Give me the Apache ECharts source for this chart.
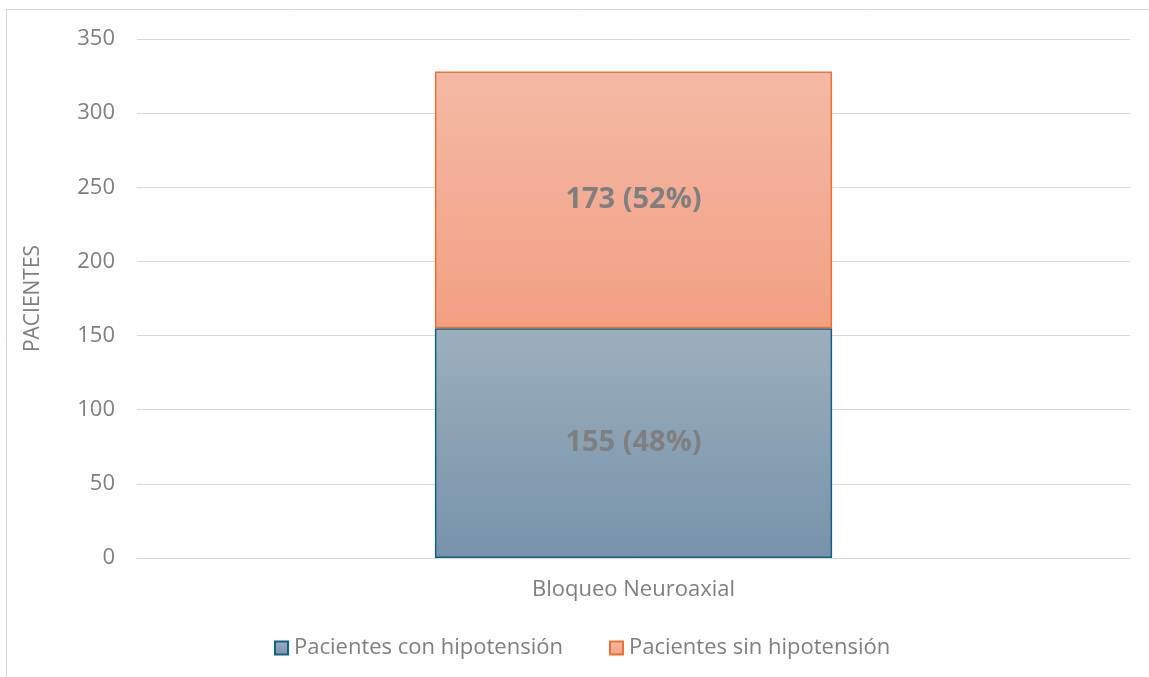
<!DOCTYPE html>
<html lang="es">
  <head>
    <meta charset="UTF-8" />
    <title>Bloqueo Neuroaxial</title>
    <style>
      body {
        margin: 0;
        background: #fff;
      }
      #chart {
        width: 1149px;
        height: 677px;
      }
    </style>
    <script src="https://cdn.jsdelivr.net/npm/echarts@6/dist/echarts.min.js"></script>
  </head>
  <body>
    <div id="chart"></div>
    <script>
      // datos
      const categories = ["Bloqueo Neuroaxial"];
      const conHipotension = [155];
      const sinHipotension = [173];
      const pctCon = [48];
      const pctSin = [52];
      const seriesNames = ["Pacientes con hipotensión", "Pacientes sin hipotensión"];

      const font = "Open Sans";
      const grey = "#7f7f7f";

      const grad = (top, bottom) =>
        new echarts.graphic.LinearGradient(0, 0, 0, 1, [
          { offset: 0, color: top },
          { offset: 1, color: bottom },
        ]);

      const chart = echarts.init(document.getElementById("chart"));
      chart.setOption({
        animation: false,
        textStyle: { fontFamily: font },
        graphic: [
          {
            type: "rect",
            shape: { x: 6.5, y: 9.5, width: 1200, height: 700 },
            style: { fill: "none", stroke: "#d9d9d9", lineWidth: 1 },
            silent: true,
          },
        ],
        grid: { left: 137, right: 19, top: 39, bottom: 119 },
        legend: {
          left: 269,
          top: 632,
          itemWidth: 13,
          itemHeight: 13,
          itemGap: 46,
          icon: "rect",
          textStyle: { fontFamily: font, fontSize: 22, color: grey, padding: [0, 0, 0, 1] },
          data: seriesNames,
        },
        xAxis: {
          type: "category",
          data: categories,
          axisLine: { lineStyle: { color: "#d9d9d9", width: 1 } },
          axisTick: { show: false },
          axisLabel: { fontFamily: font, fontSize: 22, color: grey, margin: 21 },
        },
        yAxis: {
          type: "value",
          min: 0,
          max: 350,
          interval: 50,
          name: "PACIENTES",
          nameLocation: "middle",
          nameGap: 93,
          nameTextStyle: { fontFamily: font, fontSize: 21, color: grey },
          axisLine: { show: false },
          axisTick: { show: false },
          splitLine: { lineStyle: { color: "#d9d9d9", width: 1 } },
          axisLabel: { fontFamily: font, fontSize: 22, color: grey, margin: 22 },
        },
        series: [
          {
            name: seriesNames[0],
            type: "bar",
            stack: "total",
            barWidth: "40%",
            data: conHipotension,
            itemStyle: {
              color: grad("#9cafbe", "#7793aa"),
              borderColor: "#156082",
              borderWidth: 1.5,
            },
            label: {
              show: true,
              position: "inside",
              fontFamily: font,
              fontSize: 29,
              fontWeight: "bold",
              color: grey,
              formatter: (p) => `${p.value} (${pctCon[p.dataIndex]}%)`,
            },
          },
          {
            name: seriesNames[1],
            type: "bar",
            stack: "total",
            barWidth: "40%",
            data: sinHipotension,
            itemStyle: {
              color: grad("#f4b9a5", "#f2a082"),
              borderColor: "#e97132",
              borderWidth: 1.5,
            },
            label: {
              show: true,
              position: "inside",
              fontFamily: font,
              fontSize: 29,
              fontWeight: "bold",
              color: grey,
              formatter: (p) => `${p.value} (${pctSin[p.dataIndex]}%)`,
            },
          },
        ],
      });
    </script>
  </body>
</html>
